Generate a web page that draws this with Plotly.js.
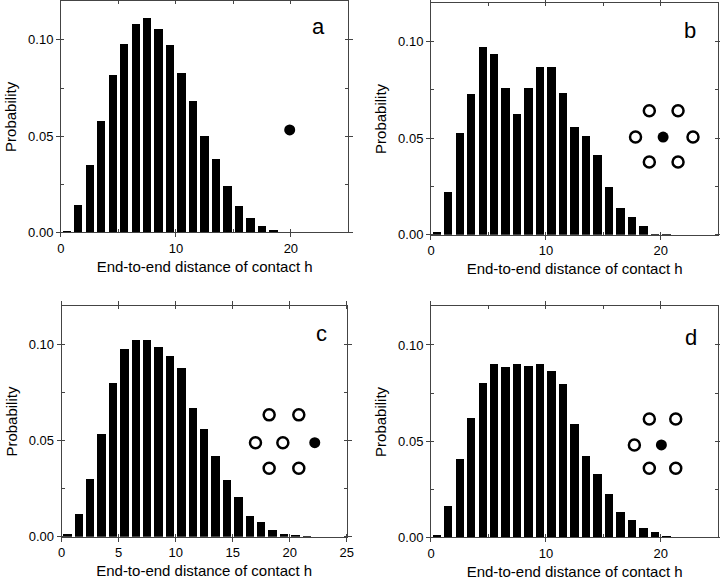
<!DOCTYPE html>
<html>
<head>
<meta charset="utf-8">
<script src="https://cdn.plot.ly/plotly-3.0.1.min.js"></script>
<style>
  html, body { margin: 0; padding: 0; background: #fff; }
  #grafico { width: 720px; height: 581px; }
</style>
</head>
<body>
<div id="grafico"></div>
<script>
// centros dos bins (distância h)
const binCenters = [0.5, 1.5, 2.5, 3.5, 4.5, 5.5, 6.5, 7.5, 8.5, 9.5, 10.5,
  11.5, 12.5, 13.5, 14.5, 15.5, 16.5, 17.5, 18.5, 19.5, 20.5, 21.5]

const probA = [0.0009, 0.014, 0.035, 0.058, 0.0816, 0.098, 0.108, 0.1114, 0.1055, 0.0974,
  0.0828, 0.0683, 0.0503, 0.038, 0.024, 0.0137, 0.0073, 0.0033, 0.0012, 0.0004, 0.0001]
const probB = [0.0016, 0.0223, 0.0528, 0.0727, 0.0972, 0.0937, 0.076, 0.0625, 0.076, 0.0869,
  0.0869, 0.0734, 0.0556, 0.0511, 0.0411, 0.0247, 0.014, 0.0092, 0.0047, 0.0003, 0.0005]
const probC = [0.0016, 0.012, 0.030, 0.0534, 0.0802, 0.0979, 0.1026, 0.1023, 0.0986, 0.0943,
  0.0877, 0.0671, 0.056, 0.0421, 0.0296, 0.0207, 0.011, 0.0077, 0.0033, 0.0016, 0.0007, 0.0002]
const probD = [0.0012, 0.0161, 0.0406, 0.0622, 0.0802, 0.0901, 0.0884, 0.09, 0.0889, 0.09,
  0.0863, 0.0795, 0.0588, 0.0423, 0.0328, 0.0225, 0.013, 0.0092, 0.0047, 0.0028, 0.0007, 0.0003]

// esquemas de pontos (vizinhos abertos, contato cheio)
const filledA = { x: [19.9], y: [0.0532] }
const openB = { x: [19.0, 21.5, 17.8, 22.8, 19.0, 21.5], y: [0.0642, 0.0642, 0.0506, 0.0506, 0.0377, 0.0377] }
const filledB = { x: [20.2], y: [0.0506] }
const openC = { x: [18.2, 20.8, 17.0, 19.4, 18.2, 20.8], y: [0.0635, 0.0635, 0.049, 0.049, 0.0357, 0.0357] }
const filledC = { x: [22.2], y: [0.049] }
const openD = { x: [19.0, 21.3, 17.7, 19.0, 21.3], y: [0.0615, 0.0615, 0.048, 0.0359, 0.0359] }
const filledD = { x: [20.05], y: [0.048] }

const panelLetters = ['a', 'b', 'c', 'd']

function barTrace(y, ax) {
  return {
    x: binCenters.slice(0, y.length), y: y, type: 'bar', width: 0.73,
    marker: { color: '#000' }, xaxis: 'x' + ax, yaxis: 'y' + ax, hoverinfo: 'skip'
  }
}

function dots(pts, ax, open) {
  return {
    x: pts.x, y: pts.y, type: 'scatter', mode: 'markers',
    xaxis: 'x' + ax, yaxis: 'y' + ax, hoverinfo: 'skip',
    marker: open
      ? { size: 11, color: '#fff', line: { color: '#000', width: 2.5 } }
      : { size: 11, color: '#000', line: { width: 0 } }
  }
}

const data = [
  barTrace(probA, ''), barTrace(probB, '2'), barTrace(probC, '3'), barTrace(probD, '4'),
  dots(filledA, '', false),
  dots(openB, '2', true), dots(filledB, '2', false),
  dots(openC, '3', true), dots(filledC, '3', false),
  dots(openD, '4', true), dots(filledD, '4', false)
]

const fonte = { family: 'Liberation Sans, Arial, sans-serif', size: 13, color: '#000' }
const fonteTitulo = { family: fonte.family, size: 15, color: '#000' }

function eixoX(domain, anchor, dtick) {
  return {
    domain: domain, anchor: anchor, range: [0, 25], dtick: dtick, tick0: 0,
    showgrid: false, zeroline: false, showline: true, linecolor: '#444', linewidth: 1,
    mirror: 'ticks', ticks: 'outside', ticklen: 4, tickcolor: '#444',
    minor: { dtick: 5, ticks: 'inside', ticklen: 3, tickcolor: '#444' },
    tickfont: fonte,
    title: { text: 'End-to-end distance of contact h', font: fonteTitulo, standoff: 6 }
  }
}

function eixoY(domain, anchor) {
  return {
    domain: domain, anchor: anchor, range: [0, 0.12], dtick: 0.05, tick0: 0,
    tickformat: '.2f', showgrid: false, zeroline: false, showline: true,
    linecolor: '#444', linewidth: 1, mirror: 'ticks', ticks: 'outside', ticklen: 4, tickcolor: '#444',
    minor: { dtick: 0.025, ticks: 'inside', ticklen: 3, tickcolor: '#444' },
    tickfont: fonte,
    title: { text: 'Probability', font: fonteTitulo, standoff: 7 }
  }
}

const letterPos = [[22.4, 0.107, 'x', 'y'], [22.5, 0.106, 'x2', 'y2'], [22.8, 0.106, 'x3', 'y3'], [22.6, 0.104, 'x4', 'y4']]

const layout = {
  width: 720, height: 581,
  margin: { l: 0, r: 0, t: 0, b: 0 },
  paper_bgcolor: '#fff', plot_bgcolor: '#fff',
  showlegend: false, bargap: 0,
  xaxis: eixoX([0.0847, 0.4838], 'y', 10),
  yaxis: eixoY([0.600, 0.9976], 'x'),
  xaxis2: eixoX([0.5986, 0.9976], 'y2', 10),
  yaxis2: eixoY([0.596, 0.9947], 'x2'),
  xaxis3: eixoX([0.0857, 0.4815], 'y3', 5),
  yaxis3: eixoY([0.0762, 0.4726], 'x3'),
  xaxis4: eixoX([0.5986, 0.9976], 'y4', 10),
  yaxis4: eixoY([0.0752, 0.4725], 'x4'),
  annotations: panelLetters.map((t, i) => ({
    text: t, x: letterPos[i][0], y: letterPos[i][1], xref: letterPos[i][2], yref: letterPos[i][3],
    showarrow: false, font: { family: fonte.family, size: 22, color: '#000' }
  }))
}

Plotly.newPlot('grafico', data, layout, { displayModeBar: false, staticPlot: true })
</script>
</body>
</html>
